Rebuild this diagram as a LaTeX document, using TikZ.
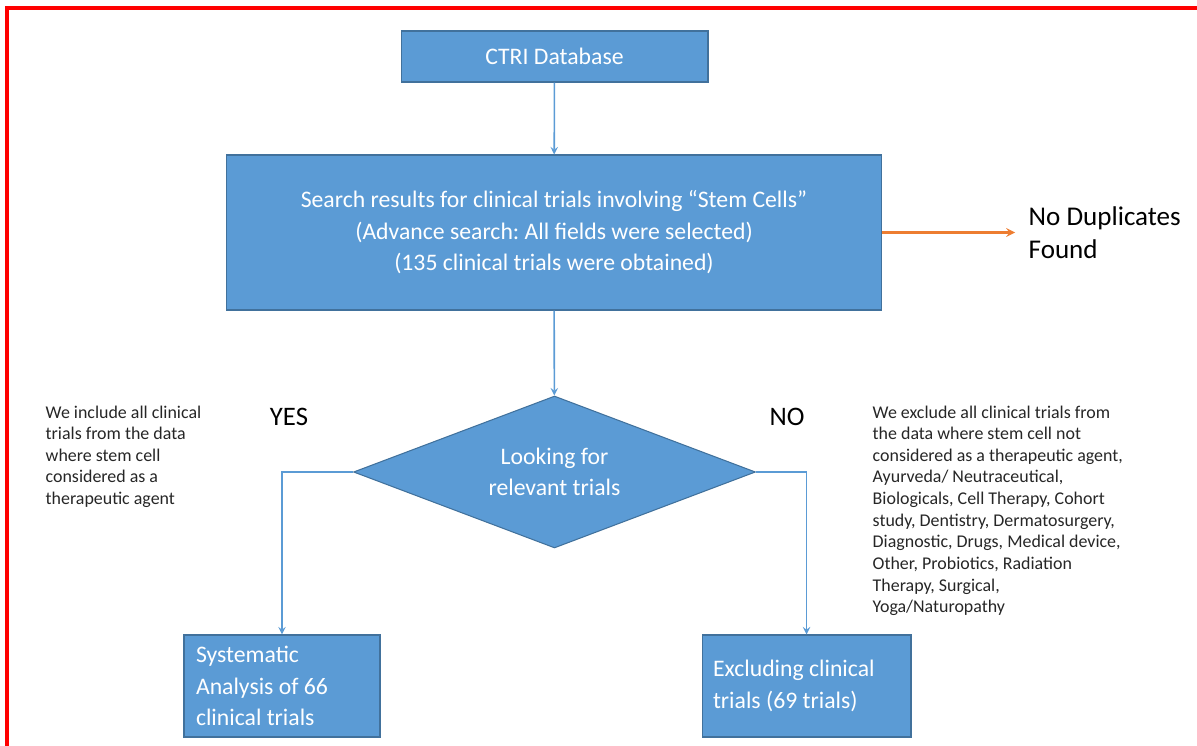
\documentclass[tikz,border=0pt]{standalone}
\usepackage{fontspec}
\setmainfont{Carlito}
\frenchspacing
\usetikzlibrary{shapes.geometric}
\definecolor{boxfill}{HTML}{5B9BD5}
\definecolor{boxline}{HTML}{41719C}
\definecolor{dupline}{HTML}{ED7D31}
\definecolor{sidetext}{HTML}{262626}
\begin{document}
\begin{tikzpicture}[x=0.02cm,y=-0.02cm,>=stealth,thick,
    blue box/.style={rectangle,draw=boxline,line width=0.6pt,fill=boxfill,text=white,
        font=\fontsize{13.5}{17.9}\selectfont,align=center},
    side note/.style={inner sep=0pt,align=flush left,text=sidetext,anchor=north west,
        font=\fontsize{10.2}{12.3}\selectfont},
    flow/.style={->,draw=boxfill,line width=0.9pt}]

            % frame of the page
            \useasboundingbox (0,0) rectangle (1197,746);
            \draw[red, line width=2pt] (7,746) -- (7,8) -- (1197,8);

            \node[blue box, minimum width=6.14cm, minimum height=1.02cm] (ctri) at (554.5,56.5) {CTRI Database};
            \node[blue box, minimum width=13.12cm, minimum height=3.1cm] (search) at (554,232.5)
                {Search results for clinical trials involving “Stem Cells”\\(Advance search: All fields were selected)\\(135 clinical trials were obtained)};
            \node[anchor=west, inner xsep=0.26cm, inner ysep=0pt, align=flush left,
                font=\fontsize{15.4}{18.7}\selectfont] (dup) at (1015,232.5) {No Duplicates\\Found};

            \node[blue box, diamond, aspect=2.64, minimum width=8.04cm, minimum height=3.04cm, inner sep=0pt] (look) at (554.5,472)
                {Looking for\\relevant trials};

            \node[font=\fontsize{15.2}{18}\selectfont] (yes) at (289,417) {YES};
            \node[font=\fontsize{15.2}{18}\selectfont] (no) at (787,417) {NO};

            \node[side note] (incl) at (45,405)
                {We include all clinical\\trials from the data\\where stem cell\\considered as a\\therapeutic agent};
            \node[side note] (excl) at (872,405)
                {We exclude all clinical trials from\\the data where stem cell not\\considered as a therapeutic agent,\\Ayurveda/ Neutraceutical,\\Biologicals, Cell Therapy, Cohort\\study, Dentistry, Dermatosurgery,\\Diagnostic, Drugs, Medical device,\\Other, Probiotics, Radiation\\Therapy, Surgical,\\Yoga/Naturopathy};

            \node[blue box, minimum width=3.92cm, minimum height=2.04cm, text width=3.44cm, align=flush left,
                inner xsep=0.24cm] (sys) at (282,686) {Systematic\\Analysis of 66\\clinical trials};
            \node[blue box, minimum width=4.18cm, minimum height=2.04cm, text width=3.74cm, align=flush left,
                inner xsep=0.22cm] (exc) at (806.5,686) {Excluding clinical\\trials (69 trials)};

                \draw[flow] (ctri) -- (search);
                \draw[flow] (search) -- (look);
                \draw[->, draw=dupline, line width=1.2pt] (search.east) -- (dup.west);
                \draw[flow] (look.west) -| (sys.north);
                \draw[flow] (look.east) -| (exc.north);
            ;
        \end{tikzpicture}
\end{document}
